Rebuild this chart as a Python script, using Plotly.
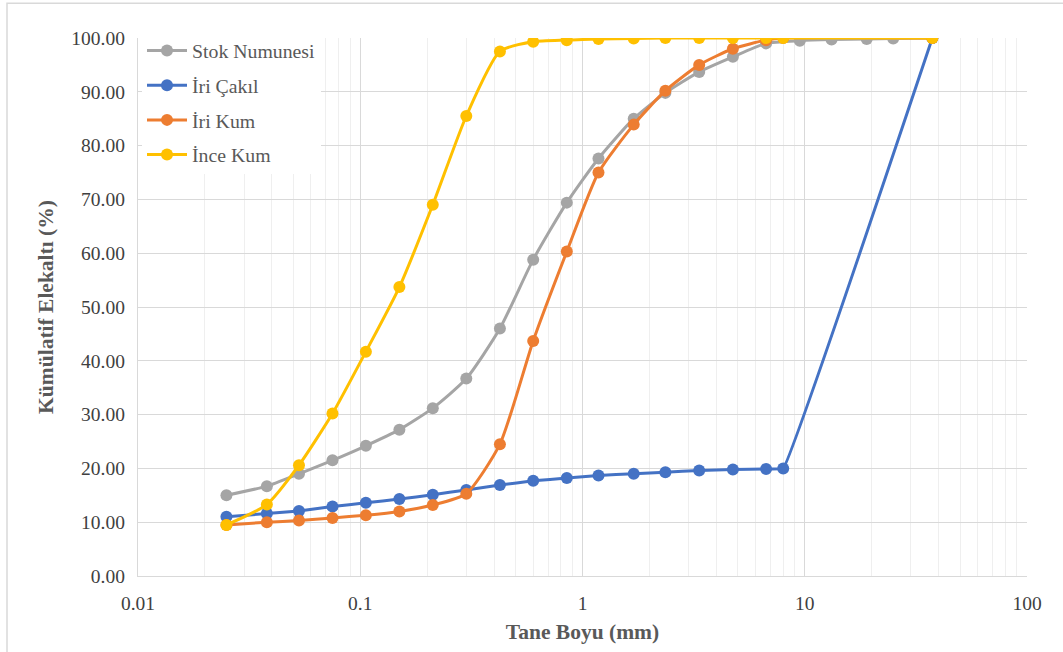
import plotly.graph_objects as go

# Sieve sizes (mm)
sieve_stok = [0.025, 0.038, 0.053, 0.075, 0.106, 0.15, 0.212, 0.3, 0.425, 0.6,
              0.85, 1.18, 1.7, 2.36, 3.35, 4.75, 6.7, 9.5, 13.2, 19, 25, 37.5]
sieve_mix = [0.025, 0.038, 0.053, 0.075, 0.106, 0.15, 0.212, 0.3, 0.425, 0.6,
             0.85, 1.18, 1.7, 2.36, 3.35, 4.75, 6.7, 8, 37.5]

# Cumulative passing (%)
stok_numunesi = [15.0, 16.7, 19.0, 21.5, 24.2, 27.2, 31.2, 36.7, 46.0, 58.8,
                 69.4, 77.6, 85.0, 89.8, 93.7, 96.5, 99.0, 99.5, 99.7, 99.8, 99.9, 100.0]
iri_cakil = [11.0, 11.6, 12.1, 12.9, 13.6, 14.3, 15.1, 16.0, 16.9, 17.7,
             18.2, 18.7, 19.0, 19.3, 19.6, 19.8, 19.9, 20.0, 100.0]
iri_kum = [9.5, 10.0, 10.3, 10.8, 11.3, 12.0, 13.2, 15.3, 24.5, 43.7,
           60.3, 75.0, 83.9, 90.2, 95.0, 98.0, 99.6, 100.0, 100.0]
ince_kum = [9.5, 13.3, 20.6, 30.2, 41.7, 53.7, 69.0, 85.5, 97.5, 99.3,
            99.6, 99.8, 99.9, 100.0, 100.0, 100.0, 100.0, 100.0, 100.0]

x_tickvals = [0.01, 0.1, 1, 10, 100]
x_ticktext = ["0.01", "0.1", "1", "10", "100"]

# name, sizes, passing, colour, spline smoothing
series = [
    ("Stok Numunesi", sieve_stok, stok_numunesi, "#A5A5A5", 0.6),
    ("İri Çakıl", sieve_mix, iri_cakil, "#4472C4", 0.2),
    ("İri Kum", sieve_mix, iri_kum, "#ED7D31", 0.6),
    ("İnce Kum", sieve_mix, ince_kum, "#FFC000", 0.6),
]

SERIF = "Liberation Serif"

fig = go.Figure()
for name, xs, ys, color, smooth in series:
    fig.add_trace(go.Scatter(
        x=xs, y=ys, name=name, legendgroup=name,
        mode="lines+markers",
        line=dict(color=color, width=3, shape="spline", smoothing=smooth),
        marker=dict(color=color, size=12),
    ))

W, H = 1063, 652
ML, MR, MT, MB = 138, 36, 38, 74
PW, PH = W - ML - MR, H - MT - MB

fig.update_layout(
    width=W, height=H,
    margin=dict(l=ML, r=MR, t=MT, b=MB, pad=0),
    paper_bgcolor="white", plot_bgcolor="white",
    font=dict(family=SERIF, size=19.5, color="#404040"),
    showlegend=True,
    legend=dict(
        x=(142 - ML) / PW, y=(MT + PH - 31) / PH,
        xanchor="left", yanchor="top",
        bgcolor="white", borderwidth=0,
        font=dict(family=SERIF, size=19.8, color="#595959"),
        tracegroupgap=6,
        itemwidth=40,
    ),
    xaxis=dict(
        type="log", range=[-2, 2],
        tickvals=x_tickvals, ticktext=x_ticktext,
        tickfont=dict(family=SERIF, size=19.5, color="#404040"),
        showgrid=True, gridcolor="#D9D9D9", gridwidth=1.3,
        minor=dict(dtick="D1", showgrid=True, gridcolor="#EFEFEF", gridwidth=1.3, ticks=""),
        showline=True, linecolor="#D9D9D9", linewidth=1.3,
        ticks="", ticklabelstandoff=9,
        zeroline=False,
        title=dict(text="<b>Tane Boyu (mm)</b>", font=dict(family=SERIF, size=21.5, color="#595959"), standoff=11),
    ),
    yaxis=dict(
        range=[0, 100], dtick=10, tickformat=".2f",
        tickfont=dict(family=SERIF, size=19.5, color="#404040"),
        showgrid=True, gridcolor="#D9D9D9", gridwidth=1.3,
        showline=True, linecolor="#D9D9D9", linewidth=1.3,
        ticks="", ticklabelstandoff=8,
        zeroline=False,
        title=dict(text="<b>Kümülatif Elekaltı (%)</b>", font=dict(family=SERIF, size=21.5, color="#595959"), standoff=11),
    ),
    shapes=[dict(
        type="rect", xref="paper", yref="paper",
        x0=(7 - ML) / PW, x1=(W + 20 - ML) / PW,
        y0=(MT + PH - (H + 20)) / PH, y1=(MT + PH - 3) / PH,
        line=dict(color="#D9D9D9", width=1.5), fillcolor="rgba(0,0,0,0)",
    )],
)

fig.write_html("out.html")
